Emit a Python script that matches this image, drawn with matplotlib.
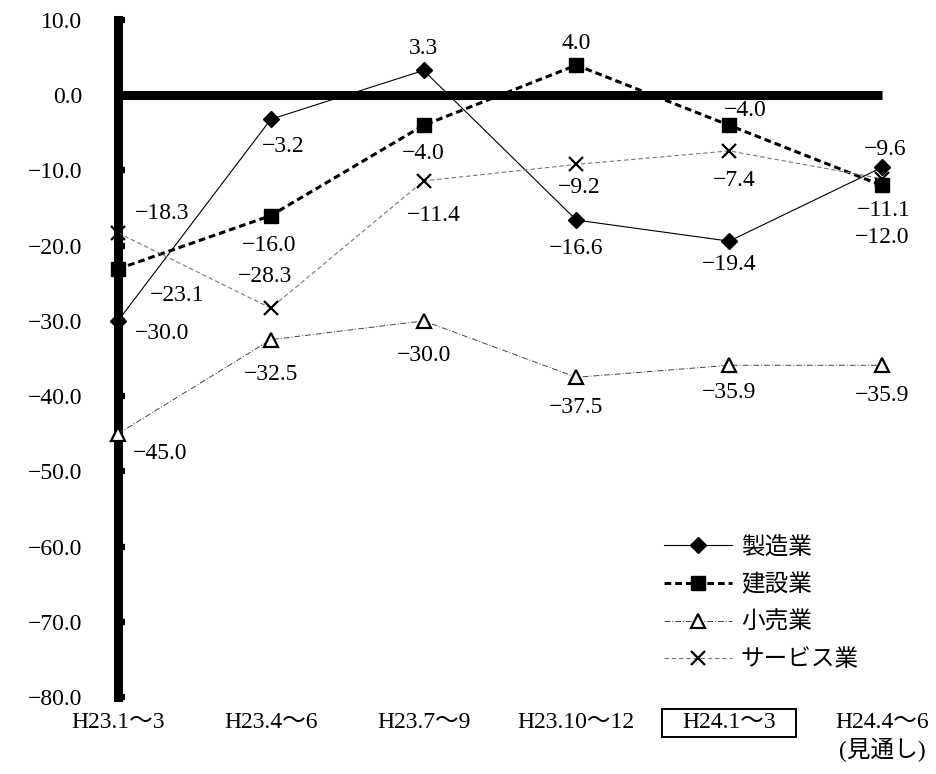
import matplotlib
matplotlib.use("Agg")
import matplotlib.pyplot as plt
from matplotlib.patches import Rectangle

plt.rcParams['font.family'] = ['Liberation Serif', 'Noto Sans CJK JP', 'DejaVu Sans']

categories = ["H23.1～3", "H23.4～6", "H23.7～9", "H23.10～12", "H24.1～3", "H24.4～6\n(見通し)"]
series_names = ["製造業", "建設業", "小売業", "サービス業"]
manufacturing = [-30.0, -3.2, 3.3, -16.6, -19.4, -9.6]
construction = [-23.1, -16.0, -4.0, 4.0, -4.0, -12.0]
retail = [-45.0, -32.5, -30.0, -37.5, -35.9, -35.9]
services = [-18.3, -28.3, -11.4, -9.2, -7.4, -11.1]
y_ticks = [10, 0, -10, -20, -30, -40, -50, -60, -70, -80]
boxed_category = 4

# label offsets in pixels (dx, dy) -- layout only
off_manu = [(44, -13), (12, -27), (0, 22), (0, -28), (0, -23), (3, 18)]
off_cons = [(59, -27), (-2, -30), (0, -28), (0, 22), (16, 15), (0, -52)]
off_ret = [(42, -20), (0, -35), (0, -35), (0, -30), (0, -27), (0, -30)]
off_serv = [(44, 19), (-6, 32), (10, -35), (3, -23), (5, -30), (2, -32)]

fig = plt.figure(figsize=(9.36, 7.74), dpi=100)
W, H = 936, 774
x0_px, step_px = 118, 152.8
xlo, xhi = -0.35, 5.3
top_px, bot_px = 20, 697
ax = fig.add_axes([(x0_px + xlo * step_px) / W, (H - bot_px) / H,
                   (xhi - xlo) * step_px / W, (bot_px - top_px) / H])

x = list(range(len(categories)))
num_font = 17

ax.hlines(0, 0, 5, colors='black', linewidth=6.5, zorder=1)

styles = [
    dict(data=manufacturing, offs=off_manu, color='black', lw=0.8, ls='-', marker='D', ms=8.5,
         mfc='black', mec='black', mew=1.0),
    dict(data=construction, offs=off_cons, color='black', lw=2.2, ls=(0, (2.2, 1.3)), marker='s', ms=10.5,
         mfc='black', mec='black', mew=1.0),
    dict(data=retail, offs=off_ret, color='#444444', lw=0.7, ls=(0, (6, 2, 1, 2)), marker='^', ms=10,
         mfc='white', mec='black', mew=1.6),
    dict(data=services, offs=off_serv, color='#777777', lw=0.8, ls=(0, (4, 2.5)), marker='x', ms=10,
         mfc='black', mec='black', mew=1.6),
]

for name, st in zip(series_names, styles):
    ax.plot(x, st['data'], color=st['color'], lw=st['lw'], linestyle=st['ls'],
            marker=st['marker'], markersize=st['ms'], markerfacecolor=st['mfc'],
            markeredgecolor=st['mec'], markeredgewidth=st['mew'], label=name,
            clip_on=False, zorder=3)
    for xi, v, (dx, dy) in zip(x, st['data'], st['offs']):
        ax.annotate(f"{v:.1f}".replace('-', '−'), (xi, v), xytext=(dx, dy),
                    textcoords='offset pixels', ha='center', va='center',
                    fontsize=num_font, zorder=4, annotation_clip=False)

ax.set_xlim(xlo, xhi)
ax.set_ylim(-80, 10)

for s in ['top', 'right', 'bottom']:
    ax.spines[s].set_visible(False)
ax.spines['left'].set_position(('data', 0))
ax.spines['left'].set_linewidth(6.5)
ax.spines['left'].set_capstyle('projecting')
ax.spines['left'].set_zorder(2)

ax.set_yticks(y_ticks, [f"{t:.1f}".replace('-', '−') for t in y_ticks])
ax.tick_params(axis='y', direction='in', length=5, width=4.5, pad=26, labelsize=num_font)
ax.set_xticks(x, categories)
ax.tick_params(axis='x', length=0, pad=11, labelsize=num_font)
for lab in ax.get_xticklabels():
    lab.set_linespacing(1.2)

leg = ax.legend(loc='upper left', bbox_to_anchor=(664 / W, 1 - 536 / H), bbox_transform=fig.transFigure,
                frameon=False, fontsize=17, handlelength=2.9, handletextpad=0.35,
                labelspacing=0.65, borderpad=0, borderaxespad=0)

# box around the current-period category label, centred on its rendered text
fig.canvas.draw()
bb = ax.get_xticklabels()[boxed_category].get_window_extent()
bx_w, bx_h = 134, 28
cx, cy = (bb.x0 + bb.x1) / 2, (bb.y0 + bb.y1) / 2
fig.add_artist(Rectangle(((cx - bx_w / 2) / W, (cy - bx_h / 2) / H), bx_w / W, bx_h / H,
                         transform=fig.transFigure, fill=False, edgecolor='black', linewidth=1.4))

fig.savefig("out.png", dpi=100, facecolor='white')
